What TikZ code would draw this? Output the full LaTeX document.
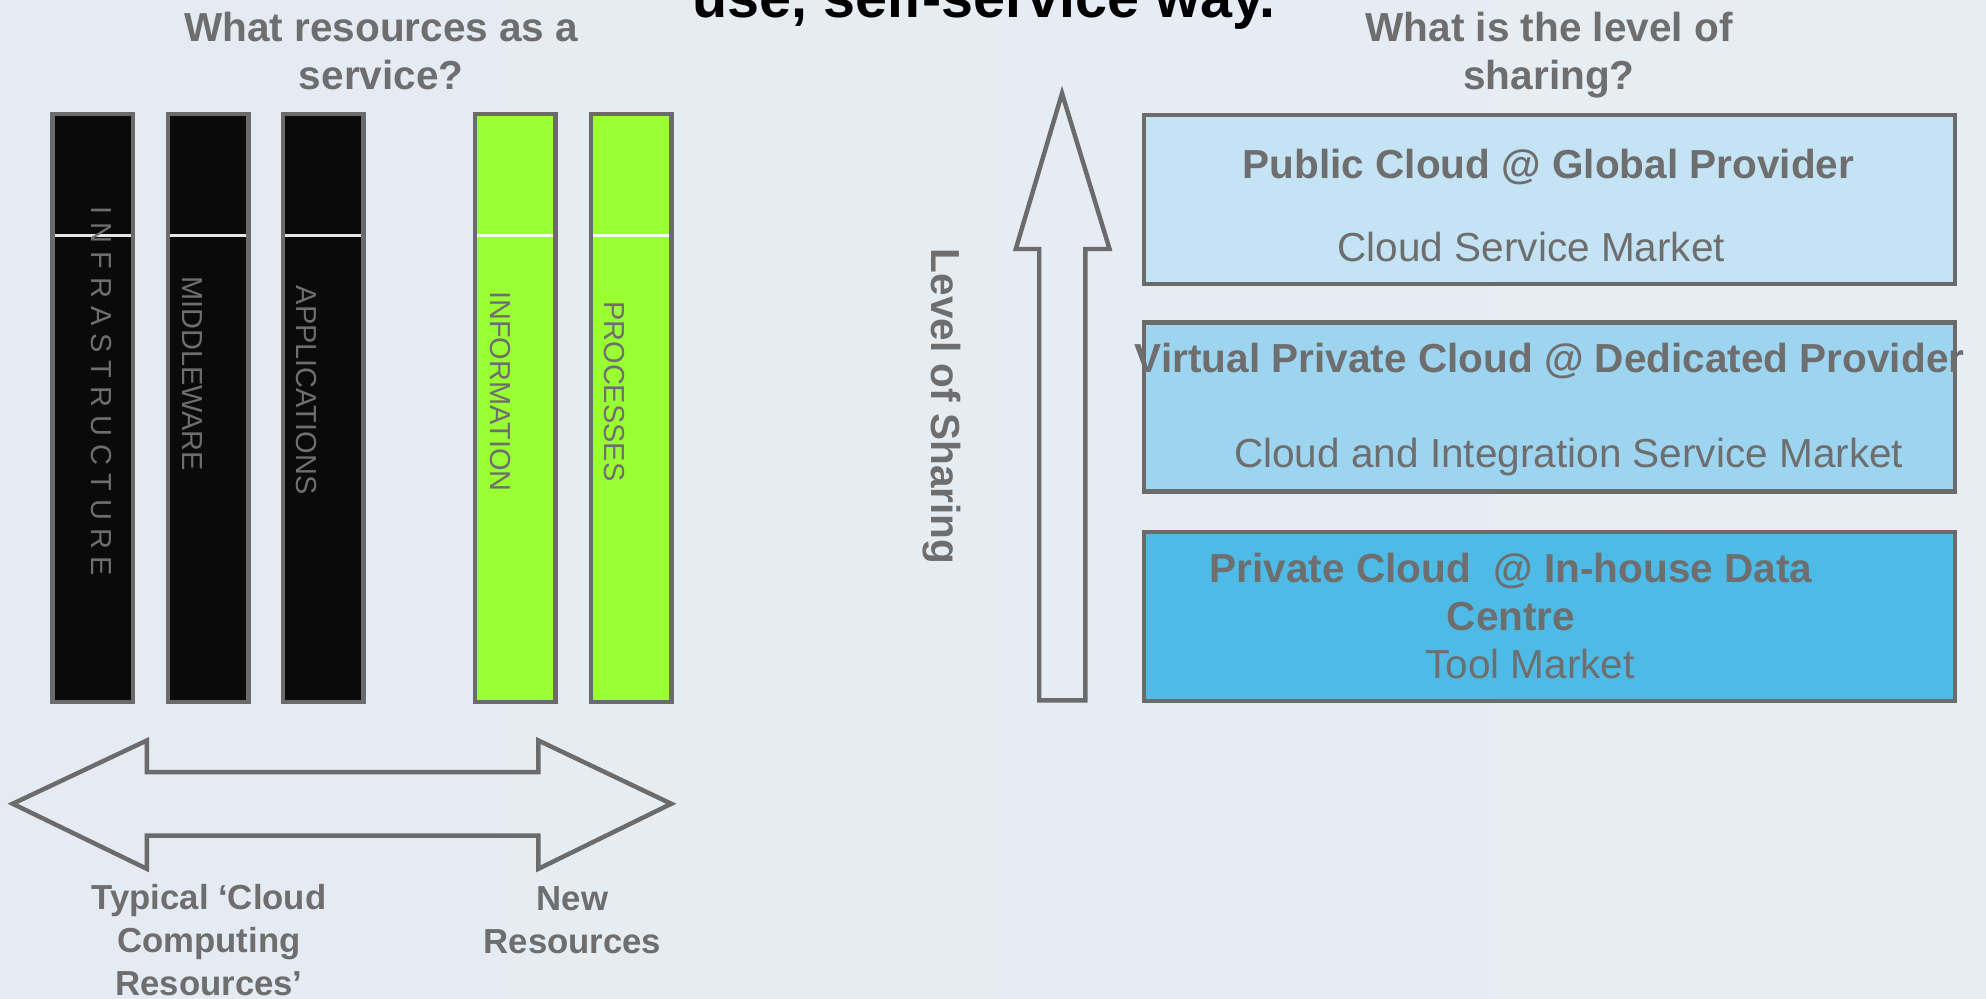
\documentclass[tikz,border=0pt]{standalone}
\usepackage{fontspec}
\setmainfont{Liberation Sans}
\usetikzlibrary{shadings}
\definecolor{txtgray}{HTML}{6E6E6E}
\definecolor{edgegray}{HTML}{6B6B6B}
\definecolor{limegreen}{HTML}{99FF33}
\definecolor{barblack}{HTML}{0A0A0A}
\definecolor{skyA}{HTML}{C4E3F4}
\definecolor{skyB}{HTML}{9DD4F0}
\definecolor{skyC}{HTML}{4EBAE6}
\definecolor{bgA}{HTML}{E4EBF2}
\definecolor{bgB}{HTML}{D9E0EA}
\definecolor{bgC}{HTML}{E7EDF3}

\begin{document}
\begin{tikzpicture}[x=0.01cm, y=-0.01cm]
  \useasboundingbox (0,0) rectangle (1568,788);
  \clip (0,0) rectangle (1568,788);
  \shade [left color=bgA, middle color=bgB, right color=bgC] (0,0) rectangle (1568,788);
  \begin{scope}[every node/.style={inner sep=0, outer sep=0, text=txtgray},
      bar/.style={draw=edgegray, line width=1pt, minimum width=0.635cm, minimum height=4.637cm},
      layer/.style={draw=edgegray, line width=1pt, minimum width=6.4cm, minimum height=1.332cm},
      fatarrow/.style={draw=edgegray, line width=1pt, line join=miter},
      head/.style={font=\bfseries\fontsize{9.1}{10.8}\selectfont, align=center, anchor=base},
      sub/.style={font=\fontsize{9.1}{10.8}\selectfont, anchor=base},
      barlabel/.style={font=\fontsize{6.5}{7.8}\selectfont, rotate=-90},
      foot/.style={font=\bfseries\fontsize{7.8}{9.7}\selectfont, align=center, anchor=base}]
    \node [font=\bfseries\fontsize{12.9}{15}\selectfont, text=black, anchor=base] (title) at (777,14) {use, self-service way.};
    \node [head] (whatres) at (301,71) {What resources as a\\service?};
    \node [head] (whatshare) at (1223,71) {What is the level of\\sharing?};
    \foreach \n/\x/\col in {infra/73.25/barblack, middle/164.25/barblack, apps/255.25/barblack, info/406.75/limegreen, proc/498.25/limegreen} {
      \node [bar, fill=\col] (\n) at (\x,322.15) {};
      \draw [white, line width=0.5pt, opacity=0.9] (\x-30,186) -- (\x+30,186);
    }
    \node [barlabel] (infratxt) at (80,309) {I N F R A S T R U C T U R E};
    \node [barlabel] (middletxt) at (152,295) {MIDDLEWARE};
    \node [barlabel] (appstxt) at (242,308) {APPLICATIONS};
    \node [barlabel] (infotxt) at (395,309) {INFORMATION};
    \node [barlabel] (proctxt) at (485,309) {PROCESSES};
    \draw [fatarrow] (10,634.6) -- (116,584.6) -- (116,609.6) -- (425,609.6) -- (425,584.6) -- (530,634.6) -- (425,686) -- (425,659.7) -- (116,659.7) -- (116,686) -- cycle;
    \node [foot] (typical) at (165,786) {Typical ‘Cloud\\Computing\\Resources’};
    \node [foot] (newres) at (452,753) {New\\Resources};
    \draw [fatarrow] (838.5,73.7) -- (876,196.6) -- (857,196.6) -- (857,553) -- (820.5,553) -- (820.5,196.6) -- (802,196.6) -- cycle;
    \node [font=\bfseries\fontsize{9.1}{10.8}\selectfont, rotate=-90] (sharing) at (744,321) {Level of Sharing};
    \node [layer, fill=skyA] (public) at (1223.5,157.4) {};
    \node [layer, fill=skyB] (virtual) at (1223.5,321.35) {};
    \node [layer, fill=skyC] (private) at (1223.5,486.65) {};
    \node [head] (publictxt) at (1222.5,141) {Public Cloud @ Global Provider};
    \node [sub] (publicmkt) at (1209,206.5) {Cloud Service Market};
    \node [head] (virtualtxt) at (1223.5,294) {Virtual Private Cloud @ Dedicated Provider};
    \node [sub] (virtualmkt) at (1238.5,369.5) {Cloud and Integration Service Market};
    \node [head] (privatetxt) at (1193,497.7) {Private Cloud \ @ In-house Data\\Centre};
    \node [sub] (privatemkt) at (1208,535.8) {Tool Market};
  \end{scope}
\end{tikzpicture}
\end{document}
